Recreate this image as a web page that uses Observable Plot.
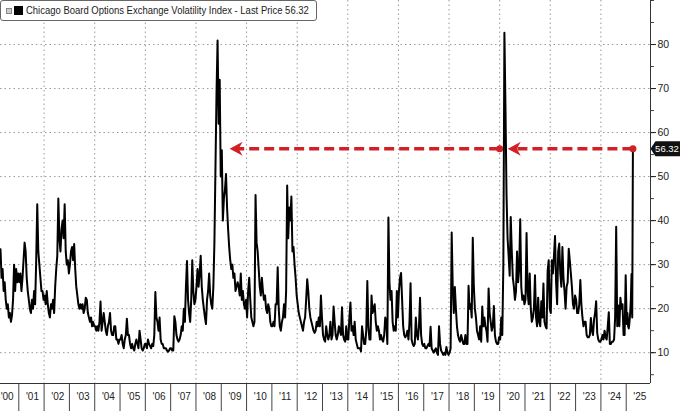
<!DOCTYPE html>
<html>
<head>
<meta charset="utf-8">
<script src="https://cdn.jsdelivr.net/npm/d3@7"></script>
<script src="https://cdn.jsdelivr.net/npm/@observablehq/plot@0.6"></script>
<style>
  body { margin: 0; background: #fff; }
  #wrap { position: relative; width: 680px; height: 411px; font-family: "Liberation Sans", Arial, sans-serif; }
  #legend { position: absolute; left: 0; top: 0; height: 21px; box-sizing: border-box; width: 317px;
    border: 1px solid #666; border-radius: 3px; background: #fff; display: flex; align-items: center;
    font-size: 10.2px; color: #222; padding-left: 5px; white-space: nowrap; overflow: hidden; }
  #legend .chk { flex: 0 0 auto; display: inline-block; width: 4px; height: 4px; border: 1px solid #888; background: #ccc; margin-right: 2px; }
  #legend .sq { flex: 0 0 auto; display: inline-block; width: 9px; height: 9px; background: #000; margin-right: 3px; }
  #legend #legendText { flex: 0 0 auto; display: inline-block; transform: scaleX(0.93); transform-origin: 0 50%; }
</style>
</head>
<body>
<div id="wrap">
  <div id="chart"></div>
  <div id="legend"><span class="chk"></span><span class="sq"></span><span id="legendText"></span></div>
</div>
<script>
// ---- Data: VIX, roughly semi-monthly readings per year ----
const v2000 = [33.5, 27, 29, 24, 26, 22, 20, 21, 18, 19, 17, 18.5, 22, 30, 24, 29, 26, 28];
const v2001 = [26, 28, 24, 27, 31, 35, 33, 27, 24, 22, 20, 19, 22, 20, 24, 21, 31, 43.7, 33, 30, 27, 24, 24, 22];
const v2002 = [23, 21, 24, 21, 19, 18, 21, 20, 22, 19, 25, 29, 32, 45, 36, 33, 38, 40, 36, 43.7, 33, 30, 31, 28];
const v2003 = [30, 33, 34, 31, 34.7, 29, 25, 23, 21, 20, 21, 20, 21, 19, 20, 22.5, 22, 19, 18, 17, 18, 16, 17, 16];
const v2004 = [16, 15, 16, 15, 17, 21.6, 15, 17, 19, 17, 15, 14, 16, 17, 19, 15, 14, 14, 16, 16, 13, 13, 12, 13];
const v2005 = [13, 14, 12, 11, 13, 14, 17.7, 14, 14, 12, 11, 12, 11, 10.5, 12, 13, 12, 11, 15, 13, 11, 10.5, 11, 12];
const v2006 = [12, 11, 13, 12, 11.5, 11, 12, 11.5, 14, 23.8, 18, 17, 15, 18, 13, 12, 12, 11, 11, 11, 10.5, 10.2, 10.5, 11];
const v2007 = [11, 10.5, 10.5, 18.3, 17, 14, 13, 12.5, 13, 14, 16, 15, 20, 17, 25, 30.8, 22, 19, 17, 22, 31, 24, 21, 22];
const v2008 = [25, 29, 25, 28, 32, 25, 22, 20, 18, 16.5, 22, 24, 28, 23, 21, 20, 25, 35, 52, 69, 80.9, 62, 72, 50];
const v2009 = [56, 40, 45, 47, 50.6, 43, 38, 34, 31, 29, 30, 27, 28, 24, 25, 26, 25, 23, 28, 22, 24, 21, 20, 22];
const v2010 = [18, 24, 27, 22, 18, 17, 16, 17, 45.8, 35, 33, 29, 25, 23, 27, 24, 22, 23, 20, 19, 21, 20, 17, 16];
const v2011 = [16, 17, 16, 21, 21, 29.4, 20, 16, 15, 17, 18, 21, 18, 24, 48, 36, 43, 40, 45.5, 33, 34, 30, 27, 23];
const v2012 = [21, 19, 18, 17, 16, 15, 17, 18, 22, 26.7, 24, 20, 18, 17, 16, 15, 14.5, 15, 17, 16, 18, 16, 23, 18];
const v2013 = [14, 13, 12.5, 16, 14, 13, 14, 17, 13, 14, 20.5, 17, 14, 13, 14, 16, 15, 14, 20.3, 14, 13, 12.5, 16, 13];
const v2014 = [13, 18, 21.4, 15, 16, 14, 17, 13, 12, 11, 11, 11, 10.3, 16, 14, 12, 12, 15, 26.3, 16, 13, 13, 23, 19];
const v2015 = [20, 21, 17, 15, 16, 15, 13, 14, 13, 12.5, 14, 18, 17, 12, 40.7, 26, 22, 24, 17, 15, 16, 15, 24, 18];
const v2016 = [24, 27, 28.1, 22, 16, 14, 13.5, 14, 15, 13, 17, 25.8, 13, 12, 11.5, 12, 18, 14, 13, 16, 22.5, 14, 12, 11.5];
const v2017 = [12, 11, 11, 11.5, 12, 11.5, 15.9, 11, 10.5, 10, 10.5, 11, 10, 9.5, 16, 12, 10.5, 10, 9.5, 10, 9.5, 11.3, 10, 9.5];
const v2018 = [10, 11, 37.3, 25, 19, 24.9, 20, 16, 14, 13, 12.5, 14, 13, 12, 12, 14, 12, 12, 25.2, 20, 21, 18, 36.1, 25];
const v2019 = [20, 18, 15, 14, 13, 16, 12.5, 20.5, 16, 18, 16, 15, 12.5, 24.6, 19, 17, 15, 16, 20.6, 14, 12.5, 12, 12, 13.5];
const v2020 = [13, 18, 14, 30, 82.7, 66, 46, 36, 32, 27.5, 40.8, 33, 27, 25, 22, 24, 33, 26, 29, 40.3, 25, 22, 23, 21];
const v2021 = [22, 37.2, 24, 21, 28, 20, 17, 18, 20, 27.6, 18, 16, 22.5, 17, 16, 21.7, 18, 25.7, 17, 16, 15.5, 28.6, 31, 20];
const v2022 = [19, 31, 28, 32, 36.5, 26, 21, 33, 34.8, 28, 25, 34, 27, 24, 20, 25, 26, 33.6, 31, 28, 25, 21, 20, 23];
const v2023 = [22, 19, 19, 21, 26.5, 21, 18, 16, 17, 17, 14, 13.5, 13.5, 14, 17.9, 15, 14, 17.5, 19, 21.7, 14.5, 13, 12.5, 12.5];
const v2024 = [13, 14, 13, 15, 13.5, 13, 16, 19.2, 12, 12, 12.5, 12.5, 13, 18, 38.6, 16, 20.7, 16, 22.5, 20, 21, 14, 14, 27.6];
const v2025 = [16.5, 19, 16, 15.5, 17, 19, 22, 27.9, 18, 56.32];

const firstYear = 2000;
const dataStart = 2000.277;   // first observation (Apr 2000)
const dataEnd = 2025.265;     // last observation (Apr 2025)
const xDomain = [2000.277, 2025.96];
const yDomain = [3, 90];

const lastPrice = 56.32;
const tip2020 = 2020.32;       // arrow head touching the 2020 spike
const start2008Arrow = 2020.0; // start of the second arrow
const tip2008 = 2009.33;       // arrow head touching the 2008 spike

const legendLabel = "Chicago Board Options Exchange Volatility Index - Last Price 56.32";
const sepYears = d3.range(2001, 2026);
const labelYears = d3.range(2000, 2026);
const gridYears = d3.range(2002, 2025, 2);
const yMajor = [10, 20, 30, 40, 50, 60, 70, 80];
const yMinor = d3.range(5, 95, 5);

// ---- Build table ----
const yearArrays = [v2000, v2001, v2002, v2003, v2004, v2005, v2006, v2007, v2008, v2009, v2010, v2011, v2012,
  v2013, v2014, v2015, v2016, v2017, v2018, v2019, v2020, v2021, v2022, v2023, v2024, v2025];
const rows = [];
yearArrays.forEach((vals, k) => {
  const yr = firstYear + k;
  const t0 = yr === 2000 ? dataStart : yr + 0.5 / 24;
  const t1 = yr === 2025 ? dataEnd : yr + 23.5 / 24;
  vals.forEach((v, i) => rows.push({ t: t0 + (t1 - t0) * i / (vals.length - 1), v }));
});

document.getElementById("legendText").textContent = legendLabel;

const red = "#d22027";
const arrowHead = { draw(ctx) { ctx.moveTo(0, 0); ctx.lineTo(13, -7); ctx.lineTo(9, 0); ctx.lineTo(13, 7); ctx.closePath(); } };
const priceTag = { draw(ctx) { ctx.moveTo(0, 0); ctx.lineTo(5, -7.5); ctx.lineTo(30, -7.5); ctx.lineTo(30, 7.5); ctx.lineTo(5, 7.5); ctx.closePath(); } };

const segs = [
  { x1: dataEnd, x2: tip2020 + 0.35 },
  { x1: start2008Arrow, x2: tip2008 + 0.35 }
];

const chart = Plot.plot({
  width: 680, height: 411,
  marginLeft: 0, marginRight: 30, marginTop: 0, marginBottom: 28,
  style: { fontFamily: "'Liberation Sans', Arial, sans-serif", fontSize: "10.5px", color: "#222", background: "#fff" },
  x: { domain: xDomain },
  y: { domain: yDomain },
  marks: [
    Plot.ruleY(yMajor, { stroke: "#999", strokeDasharray: "1.5,3", strokeWidth: 1 }),
    Plot.ruleX(gridYears, { stroke: "#999", strokeDasharray: "1.5,3", strokeWidth: 1 }),
    Plot.axisX(sepYears, { tickSize: 28, tickFormat: () => "", label: null, stroke: "#444" }),
    Plot.axisX(labelYears.map(d => d + 0.5), { tickSize: 0, tickPadding: 9, label: null, fontSize: 10,
      textAnchor: "start", dx: -5.5,
      tickFormat: d => "'" + String(Math.floor(d)).slice(2) }),
    Plot.axisY(yMinor, { anchor: "right", tickSize: 3, tickFormat: () => "", label: null, stroke: "#444" }),
    Plot.axisY(yMajor, { anchor: "right", tickSize: 5, tickPadding: 2, label: null, stroke: "#222" }),
    Plot.ruleX([xDomain[1]], { stroke: "#333", strokeWidth: 1 }),
    Plot.ruleY([yDomain[0]], { stroke: "#333", strokeWidth: 1 }),
    Plot.line(rows, { x: "t", y: "v", stroke: "#000", strokeWidth: 2, clip: true }),
    Plot.ruleY(segs, { x1: "x1", x2: "x2", y: () => lastPrice, stroke: red, strokeWidth: 3.5, strokeDasharray: "10,5" }),
    Plot.dot([dataEnd, start2008Arrow], { x: d => d, y: () => lastPrice, r: 3.5, fill: red }),
    Plot.dot([tip2020, tip2008], { x: d => d, y: () => lastPrice, symbol: arrowHead, fill: red, stroke: "none" }),
    Plot.dot([xDomain[1]], { x: d => d, y: () => lastPrice, symbol: priceTag, fill: "#111", stroke: "none" }),
    Plot.text([xDomain[1]], { x: d => d, y: () => lastPrice, text: () => lastPrice.toFixed(2), dx: 16.5, fill: "#fff", fontSize: 9.5 })
  ]
});
document.getElementById("chart").appendChild(chart);
</script>
</body>
</html>
